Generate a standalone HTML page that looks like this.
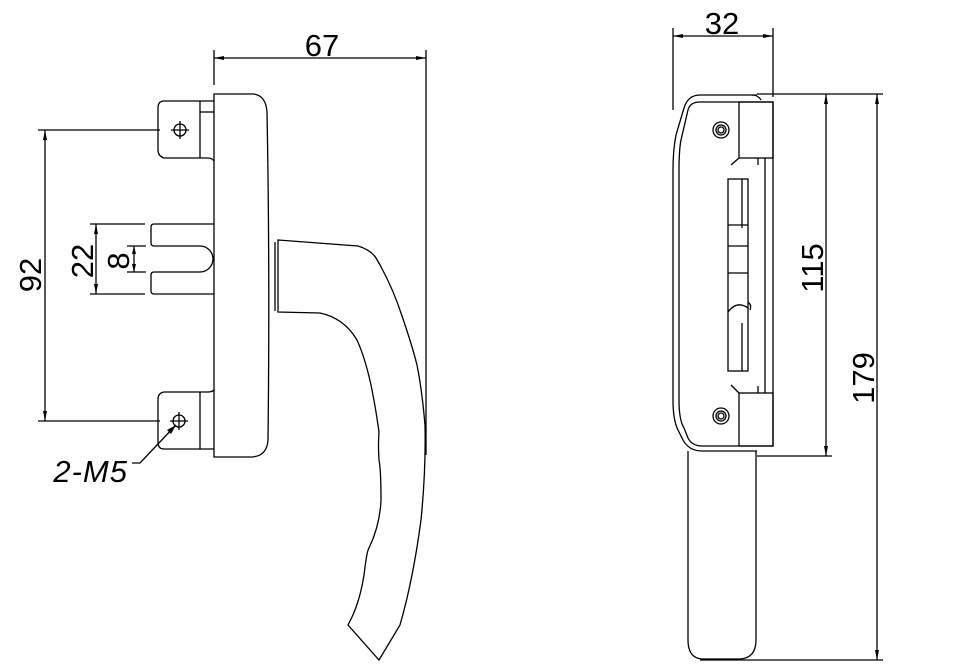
<!DOCTYPE html>
<html><head><meta charset="utf-8"><style>
html,body{margin:0;padding:0;background:#fff;}
svg{display:block;}
text{font-family:"Liberation Sans",sans-serif;fill:#000;}
</style></head><body>
<svg width="958" height="665" viewBox="0 0 958 665" xmlns="http://www.w3.org/2000/svg">
<g fill="none" stroke="#000" stroke-width="1.3">
<!-- LEFT VIEW -->
<line x1="214" y1="50" x2="214" y2="85"/>
<line x1="426" y1="50" x2="426" y2="455"/>
<line x1="214" y1="58" x2="426" y2="58"/>
<path d="M214,94 H254 Q266,96 267,112 Q270,270 268,440 Q267,456 252,457 H214 Z"/>
<path d="M214,101 H164 Q158,101 158,108 V150 Q158,156 164,158 H208 Q212,158 214,161"/>
<line x1="200" y1="101" x2="200" y2="158"/>
<line x1="200" y1="112" x2="214" y2="112"/>
<circle cx="180" cy="130" r="6"/>
<line x1="180" y1="121" x2="180" y2="139"/><line x1="171" y1="130" x2="189" y2="130"/>
<path d="M214,390 Q212,392 208,392 H164 Q158,393 158,399 V442 Q158,449 164,449 H214"/>
<line x1="200" y1="392" x2="200" y2="449"/>
<circle cx="179" cy="421" r="6"/>
<line x1="179" y1="412" x2="179" y2="430"/><line x1="170" y1="421" x2="188" y2="421"/>
<path d="M214,224 H154 Q151,224 151,227 V243 Q151,246 154,246 H200 A13,13 0 0 1 200,272 H154 Q151,272 151,275 V291 Q151,294 154,294 H214"/>
<line x1="38" y1="130" x2="160" y2="130"/>
<line x1="38" y1="421" x2="160" y2="421"/>
<line x1="45" y1="130" x2="45" y2="421"/>
<line x1="90" y1="224" x2="145" y2="224"/>
<line x1="90" y1="294" x2="145" y2="294"/>
<line x1="96" y1="224" x2="96" y2="294"/>
<line x1="127" y1="246" x2="146" y2="246"/>
<line x1="127" y1="272" x2="146" y2="272"/>
<line x1="134" y1="246" x2="134" y2="272"/>
<line x1="275" y1="242" x2="275" y2="311"/>
<path d="M278,240 L358,246 Q371,250 376,258 Q392,285 402,316 Q412,345 417,365 Q422,390 425,425 Q426,470 421,520 Q413,580 400,625 L379,660 L348,625 L352,617 Q360,600 364,575 Q367,550 369,548 Q380,525 381,500 Q381,470 379,460 Q378,445 379,432 Q376,410 372,390 Q366,360 357,340 Q344,318 320,313 L278,312 Z"/>
<polyline points="176,425 140,463 132,463"/>
<!-- RIGHT VIEW -->
<line x1="673" y1="28" x2="673" y2="110"/>
<line x1="773" y1="28" x2="773" y2="97"/>
<line x1="673" y1="36" x2="773" y2="36"/>
<path d="M757,95 H700 Q688,95 684,108 L676,135 Q673,150 673,170 V400 Q673,420 678,430 L683,440 Q689,451 702,451 H757"/>
<path d="M761,100 Q758,95 752,95"/>
<path d="M773,102 H700 Q690,102 688,110 L681,140 Q679,150 679,170 V400 Q679,420 684,428 L688,438 Q692,446 702,446 H773 Z"/>
<rect x="739" y="102" width="34" height="56"/>
<rect x="739" y="393" width="34" height="53"/>
<line x1="739" y1="158" x2="731" y2="165"/>
<line x1="739" y1="393" x2="731" y2="385"/>
<line x1="765" y1="158" x2="765" y2="393"/>
<line x1="758" y1="158" x2="758" y2="165"/>
<line x1="758" y1="386" x2="758" y2="393"/>
<circle cx="721" cy="130" r="8"/><circle cx="721" cy="130" r="5"/><circle cx="721" cy="130" r="3"/>
<circle cx="721" cy="416" r="8"/><circle cx="721" cy="416" r="5"/><circle cx="721" cy="416" r="3"/>
<rect x="728" y="179" width="20" height="192"/>
<line x1="742" y1="179" x2="742" y2="228"/>
<line x1="742" y1="323" x2="742" y2="371"/>
<line x1="728" y1="225" x2="748" y2="225"/>
<line x1="728" y1="246" x2="748" y2="246"/>
<line x1="728" y1="273" x2="748" y2="273"/>
<path d="M728,312 Q737,300 748,308"/>
<path d="M748,302 Q752,305 750,310"/>
<path d="M688,451 V640 Q688,658 702,659 H740 Q756,658 756,640 V451"/>
<line x1="757" y1="94" x2="883" y2="94"/>
<line x1="757" y1="456" x2="832" y2="456"/>
<line x1="700" y1="660" x2="883" y2="660"/>
<line x1="826" y1="94" x2="826" y2="456"/>
<line x1="877" y1="94" x2="877" y2="660"/>
</g>
<g fill="#000">
<polygon points="214,58 224,56 224,60"/><polygon points="426,58 416,56 416,60"/>
<polygon points="673,36 683,34 683,38"/><polygon points="773,36 763,34 763,38"/>
<polygon points="45,130 43,140 47,140"/><polygon points="45,421 43,411 47,411"/>
<polygon points="96,224 94,234 98,234"/><polygon points="96,294 94,284 98,284"/>
<polygon points="134,246 132,254 136,254"/><polygon points="134,272 132,264 136,264"/>
<polygon points="826,94 824,104 828,104"/><polygon points="826,456 824,446 828,446"/>
<polygon points="877,94 875,104 879,104"/><polygon points="877,660 875,650 879,650"/>
<polygon points="176,425 167,430 171,434"/>
</g>
<text x="322" y="56" font-size="31" text-anchor="middle">67</text>
<text x="722" y="34" font-size="31" text-anchor="middle">32</text>
<text x="128" y="482" font-size="31" font-style="italic" text-anchor="end" letter-spacing="1">2-M5</text>
<text transform="translate(41,275) rotate(-90)" font-size="31" text-anchor="middle">92</text>
<text transform="translate(93,261) rotate(-90)" font-size="31" text-anchor="middle">22</text>
<text transform="translate(129,261) rotate(-90)" font-size="31" text-anchor="middle">8</text>
<text transform="translate(823,268) rotate(-90)" font-size="31" text-anchor="middle">115</text>
<text transform="translate(874,378) rotate(-90)" font-size="31" text-anchor="middle">179</text>
</svg>
</body></html>
